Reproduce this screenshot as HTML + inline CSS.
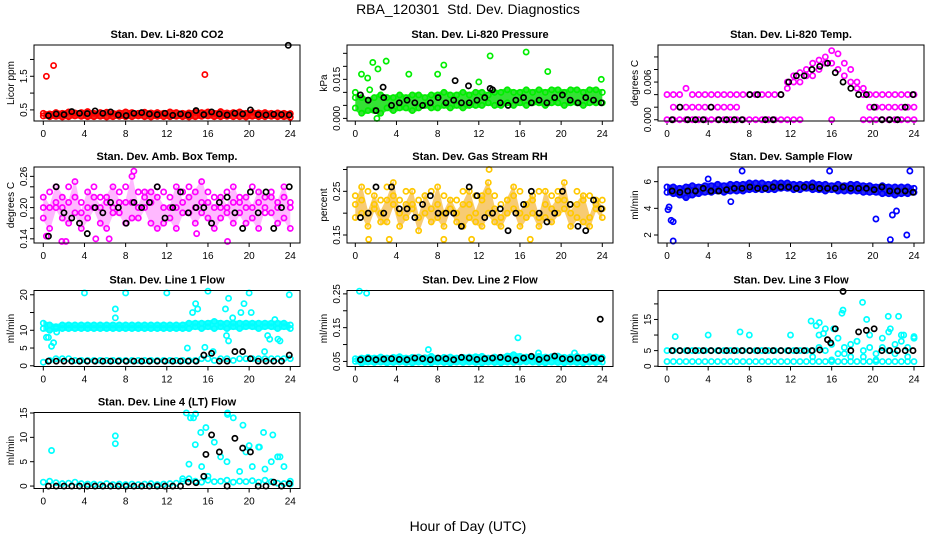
<!DOCTYPE html>
<html><head><meta charset="utf-8"><title>RBA_120301 Std. Dev. Diagnostics</title>
<style>
html,body{margin:0;padding:0;background:#fff;}
svg{display:block;font-family:"Liberation Sans",sans-serif;}
</style></head>
<body>
<svg id="chart" width="936" height="540" viewBox="0 0 936 540" xmlns="http://www.w3.org/2000/svg">
<text x="468" y="14" text-anchor="middle" font-size="14">RBA_120301&#160; Std. Dev. Diagnostics</text>
<text x="468" y="531" text-anchor="middle" font-size="14">Hour of Day (UTC)</text>
</svg>
<script>
// ---- data ----
const hourTicks = [0,4,8,12,16,20,24];
const titles = ["Stan. Dev. Li-820 CO2","Stan. Dev. Li-820 Pressure","Stan. Dev. Li-820 Temp.","Stan. Dev. Amb. Box Temp.","Stan. Dev. Gas Stream RH","Stan. Dev. Sample Flow","Stan. Dev. Line 1 Flow","Stan. Dev. Line 2 Flow","Stan. Dev. Line 3 Flow","Stan. Dev. Line 4 (LT) Flow"];
const yTitles = ["Licor ppm","kPa","degrees C","degrees C","percent","ml/min","ml/min","ml/min","ml/min","ml/min"];
const colors = ["#ff0000","#00ee00","#ff00ff","#ff00ff","#ffc800","#0000ff","#00ffff","#00ffff","#00ffff","#00ffff"];
const bandColors = ["#ee1100","#11dd11",null,"#ff33ff","#f0a000","#1010ee","#00ffff","#00ffff",null,null];
const bandOpacity = [0.9,0.85,0,0.35,0.55,0.9,0.9,0.9,0,0];
const yRanges = [[0.17,2.43],[-0.001,0.0282],[-0.0002,0.0119],[0.132,0.278],[0.1317,0.3057],[1.4,7.1],[-0.2,21.2],[0.035,0.26],[-0.1,24.3],[-0.5,15.1]];
const yTicks = [[0.5,1,1.5,2],[0,0.005,0.01,0.015,0.02,0.025],[0,0.002,0.004,0.006,0.008,0.01],[0.14,0.16,0.18,0.2,0.22,0.24,0.26],[0.15,0.2,0.25,0.3],[2,4,6],[0,5,10,15,20],[0.05,0.1,0.15,0.2,0.25],[0,5,10,15,20],[0,5,10,15]];
const yTickLabels = [["0.5","","1.5",""],["0.000","","","0.015","",""],["0.000","","","0.006","",""],["0.14","","","0.20","","","0.26"],["0.15","","0.25",""],["2","4","6"],["0","5","10","","20"],["0.05","","0.15","","0.25"],["0","5","","15",""],["0","5","10","15"]];

const p1a=[0.32,0.3,0.31,0.29,0.3,0.32,0.31,0.3,0.3,0.31,0.29,0.3,0.31,0.3,0.3,0.32,0.3,0.29,0.31,0.3,0.3,0.31,0.3,0.29,0.3,0.31,0.32,0.3,0.3,0.31,0.3,0.3,0.29,0.31,0.3,0.3,0.31,0.3,0.3,0.28];
const p1b=[0.4,0.38,0.42,0.4,0.44,0.41,0.42,0.45,0.4,0.42,0.43,0.4,0.41,0.44,0.42,0.4,0.43,0.41,0.42,0.4,0.44,0.42,0.4,0.41,0.43,0.42,0.44,0.4,0.45,0.41,0.42,0.44,0.4,0.43,0.41,0.42,0.4,0.41,0.4,0.39];
const p1k=[0.33,0.38,0.36,0.45,0.4,0.39,0.47,0.4,0.44,0.35,0.33,0.4,0.42,0.38,0.36,0.4,0.34,0.38,0.35,0.48,0.36,0.44,0.38,0.35,0.4,0.38,0.5,0.36,0.35,0.37,0.36,0.35];
const p1ox=[0.3,1.0,15.7], p1oy=[1.5,1.82,1.55], p1kx=[23.8], p1ky=[2.42];

const p2a=[0.004,0.002,0.003,0.003,0.002,0.004,0.003,0.004,0.004,0.003,0.004,0.005,0.004,0.004,0.005,0.004,0.005,0.004,0.005,0.005,0.005,0.006,0.005,0.005,0.006,0.005,0.006,0.005,0.006,0.006,0.005,0.006,0.006,0.005,0.006,0.006,0.005,0.006,0.006,0.006];
const p2b=[0.008,0.008,0.007,0.008,0.009,0.008,0.008,0.009,0.008,0.009,0.009,0.008,0.009,0.009,0.01,0.009,0.009,0.01,0.009,0.01,0.01,0.009,0.01,0.01,0.011,0.01,0.01,0.011,0.01,0.011,0.01,0.011,0.011,0.01,0.011,0.011,0.01,0.011,0.011,0.01];
const p2k=[0.009,0.007,0.003,0.008,0.005,0.006,0.007,0.006,0.005,0.006,0.008,0.006,0.007,0.006,0.006,0.007,0.008,0.011,0.006,0.005,0.007,0.008,0.006,0.007,0.006,0.008,0.009,0.007,0.006,0.008,0.007,0.006];
const p2ox=[0,0.6,1.2,1.7,2.2,3.0,5.2,8.0,8.6,12,13.1,16.6,18.7,23.9,2.1,1.4], p2oy=[0.010,0.017,0.0155,0.0215,0.019,0.022,0.017,0.017,0.0205,0.014,0.024,0.0255,0.018,0.015,0.0,0.011];
const p2kx=[2.7,9.7,11,13.1], p2ky=[0.012,0.0145,0.0125,0.0115];

const p3a=[0,0,0,0,0,0,0,0,0,0,0,0,0,0,0,0,0,0,0,0,0,0,null,null,null,null,0,null,null,null,null,0,0,0,0,0,0,0,0,0];
const p3b=[null,0.002,0.002,0.002,0.002,0.002,0.002,0.002,0.002,0.002,0.002,0.002,null,null,null,null,null,null,null,null,null,null,null,null,null,null,null,null,null,null,null,null,0.002,0.002,0.002,0.002,0.002,0.002,0.002,0.002];
const p3c=[0.004,0.004,0.004,0.005,0.004,0.004,0.004,0.004,0.004,0.004,0.004,0.004,0.004,0.004,0.004,0.004,0.004,0.004,0.004,0.006,0.007,0.0075,0.008,0.009,0.0095,0.01,0.011,0.0105,0.009,0.008,0.006,0.005,0.004,0.004,0.004,0.004,0.004,0.004,0.004,0.004];
const p3d=[null,null,null,null,null,null,null,null,null,null,null,null,null,null,null,null,null,null,null,0.005,0.006,0.006,0.007,0.007,0.008,0.009,0.009,0.008,0.007,0.006,0.005,0.004,null,null,null,null,null,null,null,null];
const p3k=[0,0.002,0,0,0,0.002,0,0,0,0,0.004,0.004,0,0,0.004,0.006,0.007,0.007,0.008,0.0085,0.009,0.0075,0.006,0.005,0.004,0.004,0.002,0,0,0,0.002,0.004];

const p4a=[0.22,0.2,0.24,0.18,0.21,0.25,0.19,0.23,0.2,0.17,0.22,0.24,0.19,0.21,0.26,0.18,0.2,0.23,0.22,0.17,0.2,0.24,0.21,0.19,0.23,0.25,0.18,0.2,0.22,0.19,0.24,0.21,0.17,0.2,0.23,0.22,0.19,0.21,0.24,0.2];
const p4b=[0.18,0.16,0.2,0.22,0.17,0.19,0.16,0.18,0.22,0.2,0.16,0.19,0.21,0.17,0.18,0.2,0.23,0.17,0.16,0.2,0.18,0.16,0.19,0.22,0.17,0.19,0.21,0.16,0.18,0.2,0.17,0.19,0.22,0.18,0.16,0.2,0.22,0.17,0.18,0.16];
const p4c=[0.2,0.23,0.21,0.2,0.24,0.22,0.21,0.2,0.24,0.22,0.21,0.2,0.23,0.24,0.21,0.23,0.22,0.21,0.24,0.23,0.22,0.2,0.23,0.24,0.2,0.21,0.23,0.22,0.2,0.23,0.21,0.22,0.2,0.24,0.21,0.19,0.23,0.2,0.22,0.21];
const p4k=[0.145,0.24,0.19,0.18,0.17,0.15,0.2,0.19,0.21,0.2,0.17,0.21,0.2,0.21,0.24,0.18,0.2,0.23,0.19,0.2,0.2,0.17,0.21,0.22,0.19,0.16,0.23,0.19,0.23,0.16,0.2,0.24];
const p4ox=[0.3,1.8,2.2,5.1,6.4,8.8,14.9,17.9], p4oy=[0.145,0.135,0.135,0.14,0.14,0.27,0.15,0.135];

const p5a=[0.22,0.26,0.2,0.24,0.18,0.23,0.27,0.2,0.22,0.25,0.19,0.24,0.21,0.26,0.2,0.23,0.18,0.22,0.25,0.2,0.24,0.27,0.21,0.19,0.23,0.26,0.2,0.22,0.24,0.19,0.25,0.21,0.23,0.27,0.2,0.22,0.24,0.19,0.23,0.21];
const p5b=[0.19,0.2,0.17,0.21,0.2,0.18,0.22,0.17,0.19,0.21,0.16,0.2,0.18,0.19,0.17,0.21,0.2,0.17,0.19,0.18,0.17,0.2,0.18,0.17,0.2,0.21,0.17,0.19,0.2,0.17,0.19,0.18,0.2,0.21,0.17,0.19,0.18,0.17,0.21,0.19];
const p5c=[0.24,0.23,0.25,0.22,0.23,0.26,0.24,0.23,0.25,0.22,0.23,0.24,0.25,0.22,0.24,0.21,0.23,0.25,0.22,0.24,0.23,0.25,0.24,0.22,0.23,0.24,0.25,0.22,0.23,0.25,0.22,0.24,0.25,0.23,0.22,0.25,0.23,0.24,0.22,0.23];
const p5k=[0.19,0.2,0.26,0.2,0.26,0.21,0.21,0.19,0.22,0.24,0.2,0.2,0.2,0.17,0.26,0.24,0.19,0.2,0.21,0.16,0.2,0.22,0.25,0.2,0.18,0.2,0.25,0.22,0.17,0.16,0.23,0.21];
const p5ox=[1.3,3.3,4.3,8.6,11.3,13,17], p5oy=[0.14,0.14,0.13,0.14,0.14,0.3,0.14];

const p6a=[5.2,5.1,5.0,4.8,5.0,5.1,5.2,5.2,5.3,5.2,5.3,5.3,5.3,5.4,5.4,5.4,5.4,5.4,5.5,5.5,5.4,5.4,5.5,5.4,5.4,5.3,5.4,5.3,5.3,5.3,5.3,5.2,5.2,5.2,5.1,5.1,5.0,5.1,5.1,5.2];
const p6b=[5.6,5.6,5.5,5.6,5.7,5.6,5.7,5.7,5.8,5.7,5.8,5.8,5.8,5.9,5.9,5.9,5.8,5.9,5.9,5.9,5.8,5.8,5.8,5.9,5.8,5.8,5.7,5.8,5.7,5.8,5.8,5.7,5.7,5.6,5.7,5.6,5.6,5.6,5.6,5.5];
const p6k=[5.3,5.2,5.3,5.3,5.5,5.3,5.3,5.4,5.5,5.5,5.6,5.5,5.5,5.6,5.6,5.6,5.5,5.6,5.6,5.5,5.5,5.5,5.6,5.5,5.5,5.5,5.4,5.6,5.3,5.3,5.3,5.2];
const p6ox=[0.1,0.2,0.4,0.6,0.6,7.3,6.2,20.3,21.7,21.9,22.3,23.3,23.6,15.8,4.0], p6oy=[3.9,4.1,3.1,3.0,1.55,6.8,4.5,3.2,1.65,3.5,3.8,2.0,6.8,6.8,6.2];

const p7a=[12,11.5,11,11.5,11.5,11.5,11.5,11.5,11.5,11.5,11.5,11.5,11.5,11.5,11.5,11.5,11.5,11.5,11.5,11.5,11.5,11.5,11.5,12,12,12,12,12.5,12,12,12,12,12,12,12,12,12,12,12,11.5];
const p7b=[10.5,10,10.5,10.5,10.5,10.5,10.5,10.5,10.5,10.5,10.5,10.5,10.5,10.5,10.5,10.5,10.5,10.5,10.5,10.5,10.5,10.5,10.5,10.5,11,10.5,11,10.5,11,10.5,11,10.5,11,11,10.5,11,11,10.5,11,10.5];
const p7c=[1,1.5,2,2,2,1.5,1.5,1.5,1.5,1.5,1.5,1.5,1.5,1.5,1.5,1.5,1.5,1.5,1.5,1.5,1.5,1.5,1.5,1.5,1.5,2,2,1.5,2,2,1.5,2,2,2,2,2,2,2,2,2];
const p7k=[1.3,1.3,1.3,1.3,1.3,1.3,1.3,1.3,1.3,1.3,1.3,1.3,1.3,1.3,1.3,1.3,1.3,1.3,1.3,1.3,3,3.5,1.3,1.3,4,4,2,1.3,1.3,1.3,1.3,3];
const p7ox=[0.3,0.5,0.8,1.0,1.3,4.0,7.0,7.0,8.0,12.0,14.0,14.5,14.8,15.0,15.7,16.0,16.5,17.7,17.8,18.0,18.0,18.4,19.2,19.5,20.0,20.2,21.5,21.8,22.0,22.5,22.8,23.0,23.9];
const p7oy=[8,8,5.5,6.5,9.5,20.5,16,13.5,20.5,20.5,5,15,17.5,16,5.2,21,4,16,8.5,19,7,13.5,15,17.5,20.5,15,4,8.5,7.5,13,7.5,7,20];

const p8a=[0.05,0.045,0.048,0.047,0.048,0.046,0.047,0.048,0.047,0.046,0.048,0.047,0.046,0.048,0.047,0.046,0.048,0.047,0.048,0.047,0.046,0.048,0.047,0.046,0.048,0.047,0.048,0.049,0.048,0.047,0.046,0.048,0.047,0.046,0.048,0.047,0.046,0.048,0.047,0.048];
const p8b=[0.058,0.06,0.062,0.06,0.063,0.06,0.062,0.064,0.06,0.062,0.063,0.061,0.065,0.06,0.062,0.063,0.06,0.062,0.063,0.064,0.065,0.06,0.063,0.062,0.066,0.07,0.065,0.063,0.062,0.065,0.063,0.064,0.066,0.062,0.063,0.065,0.062,0.064,0.063,0.062];
const p8k=[0.055,0.058,0.055,0.057,0.058,0.056,0.055,0.06,0.058,0.055,0.06,0.058,0.055,0.062,0.06,0.056,0.058,0.06,0.062,0.058,0.054,0.06,0.065,0.056,0.06,0.066,0.058,0.057,0.06,0.056,0.06,0.058];
const p8ox=[0.4,1.1,7.1,15.8,17.8,21.3], p8oy=[0.258,0.252,0.085,0.12,0.075,0.075], p8kx=[23.8], p8ky=[0.175];

const p9a=[1.5,1.5,1.5,1.5,1.5,1.5,1.5,1.5,1.5,1.5,1.5,1.5,1.5,1.5,1.5,1.5,1.5,1.5,1.5,1.5,1.5,1.5,1.5,1.5,1.5,1.5,1.5,1.5,1.5,1.5,1.5,1.5,1.5,1.5,1.5,1.5,1.5,1.5,1.5,1.5];
const p9b=[5,5,5,5,5,5,5,5,5,5,5,5,5,5,5,5,5,5,5,5,5,5,5,5,6,5,7,4,6,3,8,5,6,4,9,5,7,10,6,9];
const p9c=[null,null,null,null,null,null,null,null,null,null,null,null,null,null,null,null,null,null,null,null,null,null,null,3,10,12,2,9,4,7,8,3,10,2,6,11,4,8,3,9];
const p9k=[5,5,5,5,5,5,5,5,5,5,5,5,5,5,5,5,5,5,5,5.2,8.5,12,24,5,11,11.5,12,5,5,5,5,5];
const p9ox=[0.8,4,7.1,8,12,14,14.5,14.8,15.2,16.2,17,17.1,19,19.4,21.5,22.5,21.7,23,24], p9oy=[9.5,10,11,10,10,14.5,13,14,10.5,12,17,18,20.5,15,16,16,12,10,9.5], p9kx=[15.9], p9ky=[7.5];

const p10a=[0.8,1,0.7,0.5,0.6,0.8,0.5,0.4,0.4,0.3,0.5,0.3,0.4,0.3,0.4,0.3,0.4,0.5,0.3,0.4,0.5,0.6,1,1.5,1,0.8,1.2,0.9,1,1.2,0.8,1,0.9,1.1,0.8,1.2,0.9,0.6,0.5,0.4];
const p10b=[null,null,null,null,null,null,null,null,null,null,null,null,null,null,null,null,null,null,null,null,null,null,1.5,4.5,8.5,4,2,9,6,5,14,3,7,4,8,3.5,5,6,4,1];
const p10k=[0,0,0,0,0,0,0,0,0,0,0,0,0,0,0,0,0,0,0.8,0.7,2,10.5,7,0,9.8,7.8,7,0,0,0.8,0,0.5];
const p10ox=[0.8,7,7,13.9,14.3,14.6,14.8,15.3,15.8,17.9,17.9,19.4,21.4,22.3,23,20,21], p10oy=[7.3,10.3,8.7,15,14,14,14.8,11,12,15,14.7,12.5,11,10.5,6,8.3,8], p10kx=[15.8], p10ky=[6.5];

const colorSeries=[[p1a,p1b],[p2a,p2b],[p3a,p3b,p3c,p3d],[p4a,p4b,p4c],[p5a,p5b,p5c],[p6a,p6b],[p7a,p7b,p7c],[p8a,p8b],[p9a,p9b,p9c],[p10a,p10b]];
const blackSeries=[p1k,p2k,p3k,p4k,p5k,p6k,p7k,p8k,p9k,p10k];
const outX=[p1ox,p2ox,[],p4ox,p5ox,p6ox,p7ox,p8ox,p9ox,p10ox];
const outY=[p1oy,p2oy,[],p4oy,p5oy,p6oy,p7oy,p8oy,p9oy,p10oy];
const blackOutX=[p1kx,p2kx,[],[],[],[],[],p8kx,p9kx,p10kx];
const blackOutY=[p1ky,p2ky,[],[],[],[],[],p8ky,p9ky,p10ky];

// ---- layout ----
const NS="http://www.w3.org/2000/svg";
const svg=document.getElementById('chart');
const colLeft=[34,347,658], boxW=266, rowTop=[45,167,290.5,412.5], boxH=76;
const x0off=[9.3,8.3,9], xSpan=247;
function mk(tag,attrs,parent){const e=document.createElementNS(NS,tag);for(const k in attrs)e.setAttribute(k,attrs[k]);(parent||svg).appendChild(e);return e;}

titles.forEach((t,p)=>{
  const c=p%3, r=Math.floor(p/3);
  const L=colLeft[c], T=rowTop[r], B=T+boxH;
  const g=mk('g',{});
  
  
  const xs=h=>L+x0off[c]+h/24*xSpan;
  const [y0,y1]=yRanges[p];
  const ys=v=>B-(v-y0)/(y1-y0)*boxH;
  const tt=mk('text',{x:L+boxW/2,y:T-7,'text-anchor':'middle','font-size':11,'font-weight':'bold'},g);
  tt.textContent=t;
  
  
  hourTicks.forEach(h=>{
    const tl=mk('line',{x1:xs(h),x2:xs(h),y1:B,y2:B+4,stroke:'#000','stroke-width':1},g);
    
    
    const tx=mk('text',{x:xs(h),y:B+16,'text-anchor':'middle','font-size':10},g);
    tx.textContent=h;
    
    
  });
  yTicks[p].forEach((v,i)=>{
    const y=ys(v);
    const tl=mk('line',{x1:L-4,x2:L,y1:y,y2:y,stroke:'#000','stroke-width':1},g);
    
    
    const lab=yTickLabels[p][i];
    if(lab){
      const tx=mk('text',{x:0,y:0,'text-anchor':'middle','font-size':10,transform:'translate('+(L-7)+','+y+') rotate(-90)'},g);
      tx.textContent=lab;
      
      
    }
  });
  const yt=mk('text',{x:0,y:0,'text-anchor':'middle','font-size':10,transform:'translate('+(L-20)+','+(T+boxH/2)+') rotate(-90)'},g);
  yt.textContent=yTitles[p];
  
  
  const col=colors[p];
  // dense band fill between the first two coloured series
  if(bandColors[p]){
    const A=colorSeries[p][0], Bs=colorSeries[p][1], n=A.length;
    const top=[], bot=[];
    A.forEach((v,i)=>{
      const hx=xs(i*24/(n-1));
      const hi=Math.max(v,Bs[i]), lo=Math.min(v,Bs[i]);
      top.push(hx+','+(ys(hi)-2.5));
      bot.unshift(hx+','+(ys(lo)+2.5));
    });
    const band=mk('polygon',{points:top.concat(bot).join(' '),fill:bandColors[p],'fill-opacity':bandOpacity[p],stroke:'none'},g);
    
    
  }
  const dot=(h,v,color,name)=>{
    if(v===null||v===undefined)return;
    if(v<y0||v>y1)return;
    const e=mk('circle',{cx:xs(h),cy:ys(v),r:2.6,fill:'none',stroke:color,'stroke-width':1.7},g);
    
    
  };
  colorSeries[p].forEach(arr=>{
    const n=arr.length;
    arr.forEach((v,i)=>dot(i*24/(n-1),v,col,'data-point'));
  });
  outX[p].forEach((h,i)=>dot(h,outY[p][i],col,'outlier-point'));
  const k=blackSeries[p], m=k.length;
  k.forEach((v,i)=>dot(0.5+i*23.4/(m-1),v,'#000','hourly-point'));
  blackOutX[p].forEach((h,i)=>dot(h,blackOutY[p][i],'#000','hourly-outlier'));
  const box=mk('rect',{x:L,y:T,width:boxW,height:boxH,fill:'none',stroke:'#000','stroke-width':1},g);
  
  
});
</script>
</body></html>
